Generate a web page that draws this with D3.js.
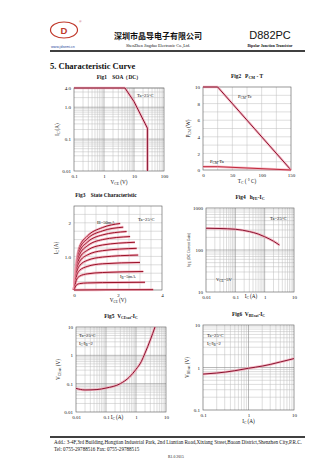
<!DOCTYPE html>
<html>
<head>
<meta charset="utf-8">
<script src="https://cdn.jsdelivr.net/npm/d3@7"></script>
<style>
  html, body { margin: 0; padding: 0; background: #fff; }
  svg { display: block; }
  text { font-family: "Liberation Serif", "DejaVu Serif", serif; fill: #111; }
</style>
</head>
<body>
<svg id="page" width="336" height="475"></svg>
<script>
// ---- Fig1 SOA (DC) ----
const soaVce = [0.1, 5, 10, 28, 28];
const soaIc  = [4, 4, 1.5, 0.22, 0.01];
const soaYTicks = [4, 1, 0.1, 0.01];
const soaYLabels = ["4.0", "1.0", "0.1", "0.01"];
const soaXTicks = [0.1, 1, 10, 100];
const soaXLabels = ["0.1", "1", "10", "100"];

// ---- Fig2 Power derating ----
const derTemp = [0, 25, 150];
const derPcTc = [10, 10, 0];
const derPcTa = [0.4, 0.4, 0];
const derYTicks = [0, 2, 4, 6, 8, 10];
const derXTicks = [0, 50, 100, 150];

// ---- Fig3 Static characteristic (one list per base current) ----
const ibLabels = ["50mA", "45mA", "40mA", "35mA", "30mA", "25mA", "20mA", "15mA", "10mA", "5mA", "0"];
const ibVce = [
  [0, 0.1, 0.25, 0.6, 1.3, 2.1],
  [0, 0.1, 0.25, 0.6, 1.3, 2.24],
  [0, 0.1, 0.25, 0.6, 1.3, 2.39],
  [0, 0.1, 0.25, 0.6, 1.3, 2.55],
  [0, 0.1, 0.25, 0.6, 1.3, 2.77],
  [0, 0.1, 0.25, 0.6, 1.3, 2.85],
  [0, 0.1, 0.25, 0.6, 1.3, 2.92],
  [0, 0.1, 0.25, 0.6, 1.3, 3.0],
  [0, 0.1, 0.25, 0.6, 1.3, 3.15],
  [0, 0.1, 0.25, 0.6, 1.3, 3.23],
  [0, 1.0, 2.0, 3.6]
];
const ibIc = [
  [0, 0.75, 1.29, 1.60, 1.86, 1.98],
  [0, 0.72, 1.22, 1.52, 1.76, 1.87],
  [0, 0.68, 1.14, 1.42, 1.64, 1.74],
  [0, 0.63, 1.05, 1.31, 1.50, 1.59],
  [0, 0.58, 0.95, 1.18, 1.34, 1.42],
  [0, 0.52, 0.84, 1.04, 1.17, 1.24],
  [0, 0.46, 0.72, 0.88, 0.98, 1.04],
  [0, 0.38, 0.58, 0.70, 0.78, 0.82],
  [0, 0.28, 0.41, 0.48, 0.52, 0.55],
  [0, 0.14, 0.19, 0.21, 0.22, 0.23],
  [0, 0.005, 0.008, 0.01]
];
const scYTicks = [1, 2];
const scYLabels = ["1.0", "2"];
const scXTicks = [0, 2, 4];

// ---- Fig4 hFE - Ic ----
const hfeIc  = [0.01, 0.03, 0.1, 0.3, 0.6, 1, 2, 3.2];
const hfeVal = [330, 325, 312, 275, 240, 207, 162, 131];
const hfeYTicks = [10, 100, 1000];
const hfeXTicks = [0.01, 0.1, 1, 10];
const hfeXLabels = ["0.01", "0.1", "1", "10"];

// ---- Fig5 VCE(sat) - Ic ----
const vceIc  = [0.01, 0.02, 0.05, 0.1, 0.3, 0.6, 1, 1.5, 2, 3, 4.3];
const vceSat = [0.068, 0.06, 0.062, 0.07, 0.1, 0.17, 0.32, 0.6, 1.2, 3.5, 10];
const vceYTicks = [0.01, 0.1, 1, 10];
const vceYLabels = ["0.01", "0.1", "1", "10"];
const vceXTicks = [0.01, 0.1, 1, 10];
const vceXLabels = ["0.01", "0.1", "1", "10"];

// ---- Fig6 VBE(sat) - Ic ----
const vbeIc  = [0.1, 0.2, 0.5, 1, 2, 3, 5, 10];
const vbeSat = [0.70, 0.74, 0.84, 0.96, 1.08, 1.18, 1.35, 1.62];
const vbeYTicks = [0.1, 1, 10];
const vbeYLabels = ["0.1", "1", "10"];
const vbeXTicks = [0.1, 1, 10];
const vbeXLabels = ["0.1", "1", "10"];

const svg = d3.select("#page");
const GRID_MINOR = "#bdbdbd", GRID_MAJOR = "#8a8a8a";

// header
const head = svg.append("g");
head.append("ellipse").attr("cx", 64).attr("cy", 30).attr("rx", 13.5).attr("ry", 8)
  .attr("fill", "none").attr("stroke", "#c0392b").attr("stroke-width", 1.2);
head.append("text").attr("x", 64).attr("y", 33.5).attr("text-anchor", "middle")
  .style("font-family", "Liberation Sans, sans-serif").style("font-weight", "bold")
  .style("font-size", "9.5px").style("fill", "#c0392b").text("D");
head.append("text").attr("x", 79).attr("y", 23).style("font-size", "3.5px").style("fill", "#c0392b").text("®");
head.append("text").attr("x", 51).attr("y", 47.5).style("font-size", "3.6px")
  .style("font-family", "Liberation Sans, sans-serif").style("fill", "#2a4aa0").text("www.jdsemi.cn");
head.append("text").attr("x", 158).attr("y", 39).attr("text-anchor", "middle")
  .style("font-family", "Noto Sans CJK SC").style("font-weight", "bold").style("font-size", "8px")
  .text("深圳市晶导电子有限公司");
head.append("text").attr("x", 158).attr("y", 46.5).attr("text-anchor", "middle")
  .style("font-size", "4.2px").text("ShenZhen Jingdao Electronic Co.,Ltd.");
head.append("text").attr("x", 270).attr("y", 39).attr("text-anchor", "middle")
  .style("font-family", "Liberation Sans, sans-serif").style("font-size", "11px").text("D882PC");
head.append("text").attr("x", 270).attr("y", 46.5).attr("text-anchor", "middle")
  .style("font-size", "3.8px").style("font-weight", "bold").text("Bipolar Junction Transistor");
head.append("line").attr("x1", 50).attr("x2", 305).attr("y1", 51).attr("y2", 51)
  .attr("stroke", "#000").attr("stroke-width", 1.6);

svg.append("text").attr("x", 50).attr("y", 69).style("font-weight", "bold").style("font-size", "8.5px")
  .text("5.  Characteristic Curve");

// footer
const foot = svg.append("g");
foot.append("line").attr("x1", 50).attr("x2", 305).attr("y1", 437).attr("y2", 437)
  .attr("stroke", "#000").attr("stroke-width", 1.6);
foot.append("text").attr("x", 54).attr("y", 444).style("font-size", "5.1px")
  .text("Add.:  3-4F,3rd Building,Hongtian Industrial Park, 2nd Liantian Road,Xixiang Street,Baoan District,Shenzhen City,P.R.C.");
foot.append("text").attr("x", 54).attr("y", 450.5).style("font-size", "5.1px")
  .text("Tel:   0755-29788516        Fax:   0755-29788515");
foot.append("text").attr("x", 176).attr("y", 457.5).attr("text-anchor", "middle").style("font-size", "3.8px")
  .text("R1.0     2015");

// generic panel: gridlines, frame, ticks, texts
function drawPanel(cfg) {
  const g = svg.append("g");
  const { x, y } = cfg;
  const [x0, x1] = x.range(), [y0, y1] = y.range();
  cfg.xMinor.forEach(v => g.append("line").attr("x1", x(v)).attr("x2", x(v)).attr("y1", y0).attr("y2", y1)
    .attr("stroke", GRID_MINOR).attr("stroke-width", 0.5));
  cfg.yMinor.forEach(v => g.append("line").attr("y1", y(v)).attr("y2", y(v)).attr("x1", x0).attr("x2", x1)
    .attr("stroke", GRID_MINOR).attr("stroke-width", 0.5));
  cfg.xMajor.forEach(v => g.append("line").attr("x1", x(v)).attr("x2", x(v)).attr("y1", y0).attr("y2", y1)
    .attr("stroke", GRID_MAJOR).attr("stroke-width", 0.6));
  cfg.yMajor.forEach(v => g.append("line").attr("y1", y(v)).attr("y2", y(v)).attr("x1", x0).attr("x2", x1)
    .attr("stroke", GRID_MAJOR).attr("stroke-width", 0.6));
  g.append("rect").attr("x", x0).attr("y", y1).attr("width", x1 - x0).attr("height", y0 - y1)
    .attr("fill", "none").attr("stroke", "#555").attr("stroke-width", 0.6);

  // axes through d3-axis, styled as bare labels
  const xa = g.append("g").attr("transform", `translate(0,${y0})`)
    .call(d3.axisBottom(x).tickValues(cfg.xTicks).tickFormat((d, i) => cfg.xLabels[i]).tickSize(0).tickPadding(3));
  const ya = g.append("g").attr("transform", `translate(${x0},0)`)
    .call(d3.axisLeft(y).tickValues(cfg.yTicks).tickFormat((d, i) => cfg.yLabels[i]).tickSize(0).tickPadding(3));
  [xa, ya].forEach(a => {
    a.select(".domain").remove();
    a.selectAll("text").style("font-family", "Liberation Serif, serif").style("font-size", "5px").attr("fill", "#111");
  });

  g.append("text").attr("x", (x0 + x1) / 2 + (cfg.titleDx || 0)).attr("y", y1 - 9).attr("text-anchor", "middle")
    .style("font-weight", "bold").style("font-size", "5.4px").html(cfg.title);
  g.append("text").attr("x", cfg.xTitleX ?? (x0 + x1) / 2).attr("y", cfg.xTitleY ?? (y0 + 13))
    .attr("text-anchor", "middle").style("font-size", "5.2px").html(cfg.xTitle);
  g.append("text").attr("transform", `translate(${x0 - (cfg.yTitleOff || 13)},${(y0 + y1) / 2}) rotate(-90)`)
    .attr("text-anchor", "middle").style("font-size", cfg.yTitleSize || "5.2px").html(cfg.yTitle);
  (cfg.notes || []).forEach(n => g.append("text").attr("x", n[0]).attr("y", n[1])
    .style("font-size", "4.6px").html(n[2]));
  return g;
}

function plotLine(g, xs, ys, x, y, core, curve) {
  const pts = xs.map((v, i) => [x(v), y(ys[i])]);
  const line = d3.line().curve(curve || d3.curveMonotoneX);
  g.append("path").attr("d", line(pts)).attr("fill", "none")
    .attr("stroke", "#f3a3b3").attr("stroke-width", 2.6).attr("stroke-opacity", 0.75)
    .attr("stroke-linejoin", "round");
  g.append("path").attr("d", line(pts)).attr("fill", "none")
    .attr("stroke", core || "#8a1430").attr("stroke-width", 1).attr("stroke-linejoin", "round");
}

function logMinor(lo, hi) {
  const out = [];
  for (let d = lo; d < hi * 0.999; d *= 10) for (let k = 2; k <= 9; k++) if (d * k <= hi * 1.0001) out.push(d * k);
  return out;
}

// Fig1
{
  const x = d3.scaleLog().domain([0.1, 100]).range([74, 164]);
  const y = d3.scaleLog().domain([0.01, 4]).range([171, 88]);
  const g = drawPanel({ x, y, xMinor: logMinor(0.1, 100), yMinor: logMinor(0.01, 4),
    xMajor: [1, 10], yMajor: [0.1, 1],
    xTicks: soaXTicks, xLabels: soaXLabels, yTicks: soaYTicks, yLabels: soaYLabels,
    title: "Fig1&#160;&#160;&#160;&#160;SOA（DC）", titleDx: 0,
    xTitle: "V<tspan font-size='3.6px' dy='1'>CE</tspan><tspan dy='-1'> (V)</tspan>",
    yTitle: "I<tspan font-size='3.6px' dy='1'>C</tspan><tspan dy='-1'> (A)</tspan>", yTitleOff: 15,
    notes: [[137, 97, "Ta=25°C"]] });
  plotLine(g, soaVce, soaIc, x, y, null, d3.curveLinear);
}

// Fig2
{
  const x = d3.scaleLinear().domain([0, 150]).range([203, 291]);
  const y = d3.scaleLinear().domain([0, 10]).range([170, 87]);
  const g = drawPanel({ x, y, xMinor: [25, 50, 75, 100, 125], yMinor: [1, 2, 3, 4, 5, 6, 7, 8, 9],
    xMajor: [], yMajor: [],
    xTicks: derXTicks, xLabels: derXTicks.map(String), yTicks: derYTicks, yLabels: derYTicks.map(String),
    title: "Fig2&#160;&#160;&#160;P<tspan font-size='4px' dy='1'>CM</tspan><tspan dy='-1'> - T</tspan>",
    xTitle: "T<tspan font-size='3.6px' dy='1'>C</tspan><tspan dy='-1'> ( ° C)</tspan>",
    yTitle: "P<tspan font-size='3.6px' dy='1'>CM</tspan><tspan dy='-1'> (W)</tspan>", yTitleOff: 13,
    notes: [[238, 98, "P<tspan font-size='3.4px' dy='1'>CM</tspan><tspan dy='-1'>-Tc</tspan>"],
            [210, 163, "P<tspan font-size='3.4px' dy='1'>CM</tspan><tspan dy='-1'>-Ta</tspan>"]] });
  plotLine(g, derTemp, derPcTc, x, y, null, d3.curveLinear);
  plotLine(g, derTemp, derPcTa, x, y, "#c0283a", d3.curveLinear);
}

// Fig3
{
  const x = d3.scaleLinear().domain([0, 4]).range([74, 162]);
  const y = d3.scaleLinear().domain([0, 2.5]).range([290, 206]);
  const g = drawPanel({ x, y, xMinor: [0.5, 1, 1.5, 2, 2.5, 3, 3.5],
    yMinor: [0.25, 0.5, 0.75, 1, 1.25, 1.5, 1.75, 2, 2.25], xMajor: [], yMajor: [],
    xTicks: scXTicks, xLabels: scXTicks.map(String), yTicks: scYTicks, yLabels: scYLabels,
    title: "Fig3&#160;&#160;&#160;&#160;State Characteristic", titleDx: -12,
    xTitle: "V<tspan font-size='3.2px' dy='1'>CE</tspan><tspan dy='-1'> (V)</tspan>", xTitleY: 301.5, xTitleX: 118,
    yTitle: "I<tspan font-size='3.6px' dy='1'>C</tspan><tspan dy='-1'> (A)</tspan>", yTitleOff: 16,
    notes: [[97, 223.5, "I<tspan font-size='3.2px' dy='0.8'>B</tspan><tspan dy='-0.8'>=50mA</tspan>"],
            [138, 221, "Ta=25°C"],
            [120, 278, "I<tspan font-size='3.2px' dy='0.8'>B</tspan><tspan dy='-0.8'>=5mA</tspan>"]] });
  ibVce.forEach((vs, i) => plotLine(g, vs, ibIc[i], x, y, "#9a1228"));
}

// Fig4
{
  const x = d3.scaleLog().domain([0.01, 10]).range([206, 294]);
  const y = d3.scaleLog().domain([10, 1000]).range([292, 208]);
  const g = drawPanel({ x, y, xMinor: logMinor(0.01, 10), yMinor: logMinor(10, 1000),
    xMajor: [0.1, 1], yMajor: [100],
    xTicks: hfeXTicks, xLabels: hfeXLabels, yTicks: hfeYTicks, yLabels: hfeYTicks.map(String),
    title: "Fig4&#160;&#160;&#160;h<tspan font-size='4px' dy='1'>FE</tspan><tspan dy='-1'>-I</tspan><tspan font-size='4px' dy='1'>C</tspan>",
    xTitle: "I<tspan font-size='3.6px' dy='1'>C</tspan><tspan dy='-1'> (A)</tspan>", xTitleX: 251, xTitleY: 298,
    yTitle: "h<tspan dy='0.8'>FE</tspan><tspan dy='-0.8'> (DC Current Gain)</tspan>", yTitleOff: 16, yTitleSize: "3.6px",
    notes: [[270, 220, "Ta=25°C"],
            [216, 281, "V<tspan font-size='3.4px' dy='1'>CE</tspan><tspan dy='-1'>=5V</tspan>"]] });
  plotLine(g, hfeIc, hfeVal, x, y);
}

// Fig5
{
  const x = d3.scaleLog().domain([0.01, 10]).range([76, 166]);
  const y = d3.scaleLog().domain([0.01, 10]).range([412, 327]);
  const g = drawPanel({ x, y, xMinor: logMinor(0.01, 10), yMinor: logMinor(0.01, 10),
    xMajor: [0.1, 1], yMajor: [0.1, 1],
    xTicks: vceXTicks, xLabels: vceXLabels, yTicks: vceYTicks, yLabels: vceYLabels,
    title: "Fig5&#160;&#160;V<tspan font-size='3.8px' dy='1'>CEsat</tspan><tspan dy='-1'>-I</tspan><tspan font-size='3.8px' dy='1'>C</tspan>",
    xTitle: "I<tspan font-size='3.6px' dy='1'>C</tspan><tspan dy='-1'> (A)</tspan>", xTitleX: 117, xTitleY: 419,
    yTitle: "V<tspan font-size='3.6px' dy='1'>CEsat</tspan><tspan dy='-1'> (V)</tspan>", yTitleOff: 16,
    notes: [[79, 337, "Ta=25°C"],
            [79, 345, "I<tspan font-size='3.4px' dy='0.8'>C</tspan><tspan dy='-0.8'>/I</tspan><tspan font-size='3.4px' dy='0.8'>B</tspan><tspan dy='-0.8'>=2</tspan>"]] });
  plotLine(g, vceIc, vceSat, x, y);
}

// Fig6
{
  const x = d3.scaleLog().domain([0.1, 10]).range([203, 294]);
  const y = d3.scaleLog().domain([0.1, 10]).range([410, 325]);
  const g = drawPanel({ x, y, xMinor: logMinor(0.1, 10), yMinor: logMinor(0.1, 10),
    xMajor: [1], yMajor: [1],
    xTicks: vbeXTicks, xLabels: vbeXLabels, yTicks: vbeYTicks, yLabels: vbeYLabels,
    title: "Fig6&#160;&#160;V<tspan font-size='3.8px' dy='1'>BEsat</tspan><tspan dy='-1'>-I</tspan><tspan font-size='3.8px' dy='1'>C</tspan>",
    xTitle: "I<tspan font-size='3.6px' dy='1'>C</tspan><tspan dy='-1'> (A)</tspan>",
    yTitle: "V<tspan font-size='3.6px' dy='1'>BEsat</tspan><tspan dy='-1'> (V)</tspan>", yTitleOff: 14,
    notes: [[207, 337, "Ta=25°C"],
            [207, 345, "I<tspan font-size='3.4px' dy='0.8'>C</tspan><tspan dy='-0.8'>/I</tspan><tspan font-size='3.4px' dy='0.8'>B</tspan><tspan dy='-0.8'>=2</tspan>"]] });
  plotLine(g, vbeIc, vbeSat, x, y);
}
</script>
</body>
</html>
